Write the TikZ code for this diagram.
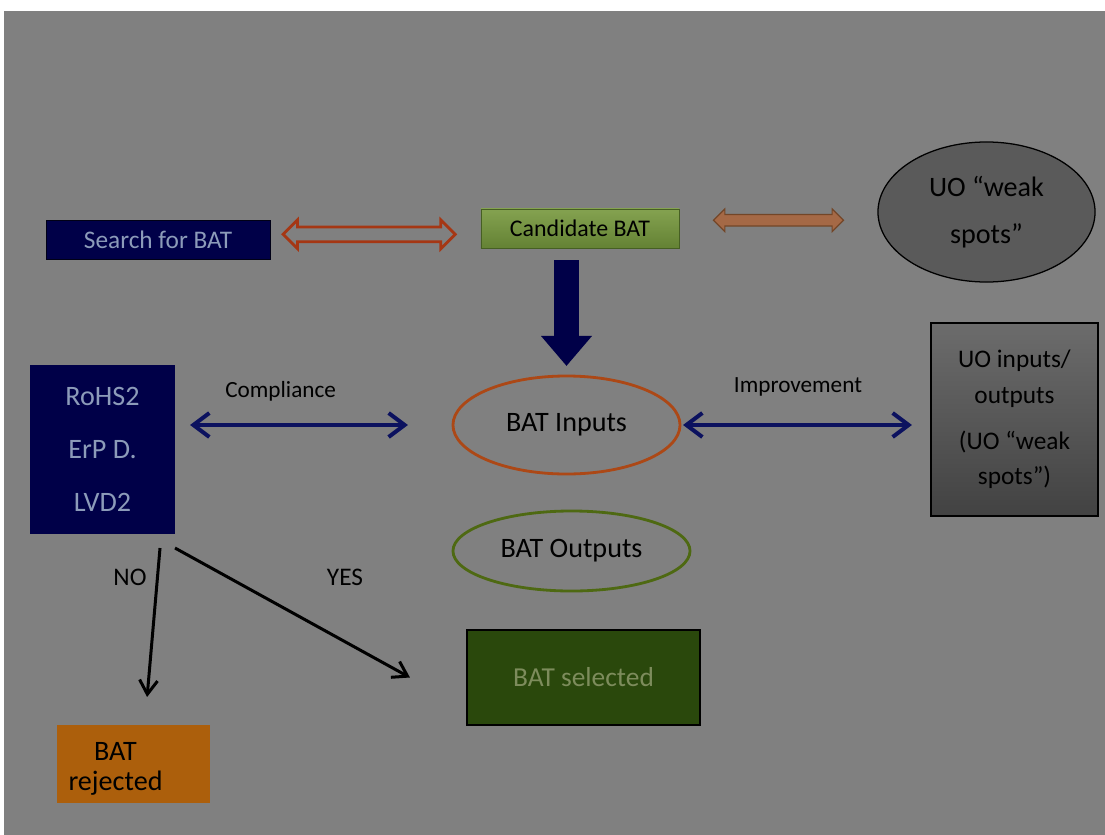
\documentclass[tikz,border=0pt]{standalone}
\usepackage{fontspec}
\setmainfont{Carlito}
\usepackage{xcolor}
\definecolor{fondo}{RGB}{128,128,128}
\definecolor{azulOscuro}{RGB}{0,0,72}
\definecolor{azulTexto}{RGB}{140,155,185}
\definecolor{azulFlecha}{RGB}{12,18,95}
\definecolor{verdeA}{RGB}{132,162,80}
\definecolor{verdeB}{RGB}{100,130,52}
\definecolor{verdeBorde}{RGB}{70,95,35}
\definecolor{verdeOscuro}{RGB}{42,72,12}
\definecolor{verdeTexto}{RGB}{125,140,92}
\definecolor{verdeElipse}{RGB}{78,105,18}
\definecolor{naranja}{RGB}{172,95,12}
\definecolor{naranjaElipse}{RGB}{172,72,22}
\definecolor{rojoFlecha}{RGB}{165,55,20}
\definecolor{marron}{RGB}{165,105,70}
\definecolor{marronBorde}{RGB}{115,70,40}
\definecolor{grisElipse}{RGB}{90,90,90}
\definecolor{grisA}{RGB}{108,108,108}
\definecolor{grisB}{RGB}{66,66,66}
\usepackage{tikz}
\usetikzlibrary{arrows.meta,shapes,calc,positioning}
\tikzstyle{caja}  =[rectangle, draw, inner sep=0pt,
                    outer sep=0pt, align=center]
\tikzstyle{elipse}=[ellipse, draw, inner sep=0pt,
                    outer sep=0pt, align=center]
\tikzstyle{dflecha}=[double arrow, draw, inner xsep=0pt,
                    inner ysep=0.15cm, line width=2pt,
                    double arrow head extend=0.175cm]
\tikzstyle{edge}  =[line width=0.1cm,
                    {Straight Barb[length=0.4cm,width=0.6cm]}-{Straight Barb[length=0.4cm,width=0.6cm]}]
\tikzstyle{flechaNegra}=[line width=0.075cm, black,
                    -{Straight Barb[length=0.35cm,width=0.45cm]}]
\tikzstyle{etiqueta}=[inner sep=0pt, font=\fontsize{16.5}{19}\selectfont]

\begin{document}
\begin{tikzpicture}[x=0.025cm,y=-0.025cm]
    \useasboundingbox (0,0) rectangle (1105,835);
    \fill[fondo] (4,11) rectangle (1105,835);

    % fila de arriba
    \draw (158,239.5) node(search)[caja, fill=azulOscuro, draw=black!70!azulOscuro,
        minimum width=5.6cm, minimum height=0.975cm, text=azulTexto,
        font=\fontsize{18}{20}\selectfont]{Search for BAT};
    \draw (580,228.5) node(cand)[caja, top color=verdeA, bottom color=verdeB, draw=verdeBorde,
        minimum width=4.95cm, minimum height=0.975cm,
        font=\fontsize{17}{19}\selectfont]{Candidate BAT};
    \draw (986.5,212) node(weak)[elipse, fill=grisElipse, draw=black, line width=0.9pt,
        minimum width=5.425cm, minimum height=3.5cm,
        font=\fontsize{20}{33}\selectfont]{UO “weak\\spots”};

    % fila del medio
    \draw (102.5,449.5) node(regs)[caja, fill=azulOscuro, draw=none,
        minimum width=3.625cm, minimum height=4.225cm, text=azulTexto,
        font=\fontsize{20}{37.6}\selectfont]{RoHS2\\ErP D.\\LVD2};
    \draw (566.5,425) node(inputs)[elipse, draw=naranjaElipse, line width=2pt,
        minimum width=5.675cm, minimum height=2.45cm,
        font=\fontsize{20}{22}\selectfont]{BAT Inputs};
    \draw (1014.5,419.5) node(uoio)[caja, top color=grisA, bottom color=grisB, draw=black,
        line width=0.8pt, minimum width=4.175cm, minimum height=4.825cm,
        font=\fontsize{18}{25}\selectfont]{UO inputs/\\outputs\\[8pt](UO “weak\\spots”)};
    \draw (571.5,551) node(outputs)[elipse, draw=verdeElipse, line width=2pt,
        minimum width=5.925cm, minimum height=2cm,
        font=\fontsize{20}{22}\selectfont]{BAT Outputs};

    % fila de abajo
    \draw (583.5,677.5) node(selected)[caja, fill=verdeOscuro, draw=black, line width=1.5pt,
        minimum width=5.825cm, minimum height=2.375cm, text=verdeTexto,
        font=\fontsize{19.5}{22}\selectfont]{BAT selected};
    \draw (133.5,764) node(rejected)[caja, fill=naranja, draw=none,
        minimum width=3.825cm, minimum height=1.95cm,
        label={[align=center, xshift=-0.45cm, yshift=-0.12cm,
        font=\fontsize{20}{21}\selectfont]center:BAT\\rejected}]{};
    \draw (130,577) node(no)[etiqueta, font=\fontsize{18}{20}\selectfont]{NO};
    \draw (345,577) node(yes)[etiqueta, font=\fontsize{18}{20}\selectfont]{YES};

    % flechas
    \draw ($(search.east)!0.47!(cand.west)$ |- search.east) node(fA)[dflecha, draw=rojoFlecha,
        fill=fondo, minimum height=4.3cm]{};
    \draw ($(cand.east)!0.5!(weak.west)$ |- cand.east) node(fB)[dflecha, draw=marronBorde,
        fill=marron, line width=0.8pt, inner ysep=0.13cm, minimum height=3.25cm,
        double arrow head extend=0.14cm]{};

    \draw[azulOscuro, line width=0.625cm, -{Triangle[width=1.225cm,length=0.75cm]},
        shorten <=0.3cm, shorten >=0.25cm] (inputs.north |- cand.south) to (inputs.north);

    \draw[edge, azulFlecha, shorten <=0.375cm, shorten >=1.125cm]
        (regs.east |- inputs.west) to node[etiqueta, pos=0.38, yshift=0.85cm, text=black]{Compliance} (inputs.west);
    \draw[edge, azulFlecha, shorten <=0.075cm, shorten >=0.475cm]
        (inputs.east) to node[etiqueta, pos=0.47, yshift=0.95cm, text=black]{Improvement} (inputs.east -| uoio.west);

    \draw[flechaNegra] ([xshift=-0.375cm, yshift=-0.35cm]regs.south east) to ([xshift=0.34cm, yshift=0.7cm]rejected.north);
    \draw[flechaNegra] ([yshift=-0.35cm]regs.south east) to ([xshift=-1.425cm]selected.west);

\end{tikzpicture}
\end{document}
